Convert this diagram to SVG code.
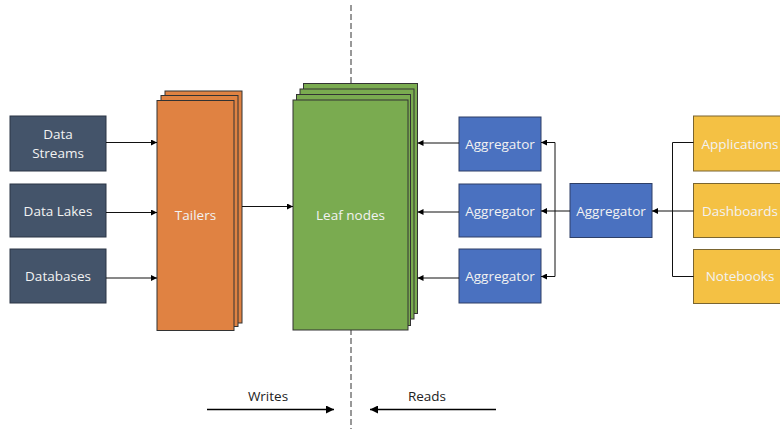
<svg xmlns="http://www.w3.org/2000/svg" width="780" height="429" viewBox="0 0 780 429">
<defs>
<marker id="ah" viewBox="0 0 10 10" refX="10" refY="5" markerWidth="6" markerHeight="6" markerUnits="userSpaceOnUse" orient="auto">
<path d="M0,0 L10,5 L0,10 z" fill="#000"/>
</marker>
<marker id="big" viewBox="0 0 10 10" refX="10" refY="5" markerWidth="10" markerHeight="8" markerUnits="userSpaceOnUse" orient="auto">
<path d="M0,0 L10,5 L0,10 z" fill="#000"/>
</marker>
</defs>
<style>
.t{font-family:"Open Sans","Liberation Sans",sans-serif;font-size:13.5px;fill:#f2f2f2;text-anchor:middle;dominant-baseline:central}
.lbl{font-family:"Open Sans","Liberation Sans",sans-serif;font-size:13.5px;fill:#222;text-anchor:middle}
.src{fill:#44546A;stroke:#2b3545;stroke-width:1}
.or{fill:#E08242;stroke:#333;stroke-width:1}
.gr{fill:#7AAB50;stroke:#333;stroke-width:1}
.bl{fill:#4A71C0;stroke:#2e3f66;stroke-width:1}
.ye{fill:#F4C144;stroke:#7a6530;stroke-width:1}
.c{stroke:#111;stroke-width:1;fill:none}
.ca{stroke:#111;stroke-width:1;fill:none;marker-end:url(#ah)}
</style>
<rect width="780" height="429" fill="#fff"/>
<line x1="351" y1="5" x2="351" y2="429" stroke="#333" stroke-width="1" stroke-dasharray="6,3"/>
<g id="data-streams"><rect class="src" x="10" y="116" width="96" height="55"/><text class="t" x="58" y="134">Data</text><text class="t" x="58" y="153">Streams</text></g>
<g id="data-lakes"><rect class="src" x="10" y="184" width="96" height="53"/><text class="t" x="58" y="211">Data Lakes</text></g>
<g id="databases"><rect class="src" x="10" y="249" width="96" height="54"/><text class="t" x="58" y="276">Databases</text></g>
<g id="tailers">
<rect class="or" x="165" y="91" width="77" height="232"/>
<rect class="or" x="161" y="95.5" width="77" height="231"/>
<rect class="or" x="157" y="100.5" width="77" height="230"/>
<text class="t" x="195.5" y="215">Tailers</text>
</g>
<g id="leaf-nodes">
<rect class="gr" x="303.5" y="83.5" width="114" height="230"/>
<rect class="gr" x="300" y="89" width="114" height="230"/>
<rect class="gr" x="296.5" y="94.5" width="114" height="231"/>
<rect class="gr" x="293" y="100" width="115" height="230"/>
<text class="t" x="350.5" y="215">Leaf nodes</text>
</g>
<g id="aggregator-1"><rect class="bl" x="459" y="117" width="82" height="54"/><text class="t" x="500" y="144">Aggregator</text></g>
<g id="aggregator-2"><rect class="bl" x="459" y="184" width="82" height="53"/><text class="t" x="500" y="211">Aggregator</text></g>
<g id="aggregator-3"><rect class="bl" x="459" y="249" width="82" height="54"/><text class="t" x="500" y="276">Aggregator</text></g>
<g id="aggregator-root"><rect class="bl" x="570" y="183.5" width="82" height="54"/><text class="t" x="611" y="211">Aggregator</text></g>
<g id="applications"><rect class="ye" x="693.5" y="116" width="94" height="55"/><text class="t" x="740" y="144">Applications</text></g>
<g id="dashboards"><rect class="ye" x="693.5" y="183.5" width="94" height="54"/><text class="t" x="740" y="211">Dashboards</text></g>
<g id="notebooks"><rect class="ye" x="693.5" y="249.5" width="94" height="54"/><text class="t" x="740" y="276">Notebooks</text></g>
<g id="connectors">
<line class="ca" x1="106" y1="142.5" x2="157" y2="142.5"/>
<line class="ca" x1="106" y1="212.5" x2="157" y2="212.5"/>
<line class="ca" x1="106" y1="278" x2="157" y2="278"/>
<line class="ca" x1="242" y1="206.5" x2="293" y2="206.5"/>
<line class="ca" x1="459" y1="143" x2="417.5" y2="143"/>
<line class="ca" x1="459" y1="212" x2="417.5" y2="212"/>
<line class="ca" x1="459" y1="278" x2="417.5" y2="278"/>
<line class="c" x1="570" y1="211" x2="555" y2="211"/>
<path class="c" d="M555,142.5 V276.5"/>
<line class="ca" x1="555" y1="142.5" x2="541" y2="142.5"/>
<line class="ca" x1="555" y1="211" x2="541" y2="211"/>
<line class="ca" x1="555" y1="276.5" x2="541" y2="276.5"/>
<path class="c" d="M693.5,142.5 H672.5 V276.5 H693.5"/>
<line class="ca" x1="693.5" y1="211" x2="652" y2="211"/>
<line stroke="#000" stroke-width="1.5" x1="207" y1="409.5" x2="334" y2="409.5" marker-end="url(#big)"/>
<line stroke="#000" stroke-width="1.5" x1="496" y1="409.5" x2="370" y2="409.5" marker-end="url(#big)"/>
</g>
<text class="lbl" x="268" y="401">Writes</text>
<text class="lbl" x="427" y="401">Reads</text>
</svg>
